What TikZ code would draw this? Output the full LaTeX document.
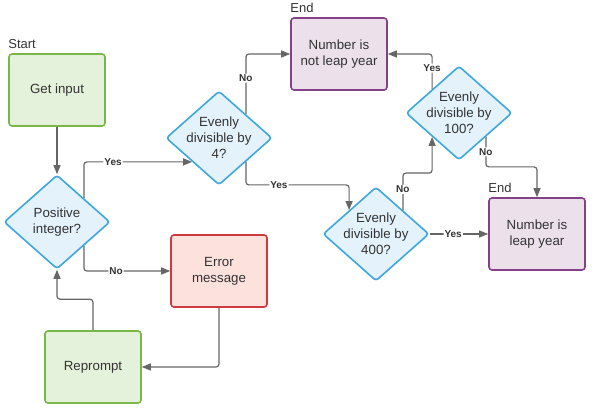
\documentclass[tikz,border=0pt]{standalone}
\usepackage{fontspec}
\setmainfont{Liberation Sans}
\usepackage{xcolor}
\usepackage{tikz}
\usetikzlibrary{positioning,shapes.geometric,arrows.meta}
\definecolor{inputline}{RGB}{122,182,72}
\definecolor{inputfill}{RGB}{229,242,219}
\definecolor{testline}{RGB}{62,168,222}
\definecolor{testfill}{RGB}{227,242,251}
\definecolor{errline}{RGB}{208,57,62}
\definecolor{errfill}{RGB}{253,225,221}
\definecolor{endline}{RGB}{131,65,135}
\definecolor{endfill}{RGB}{236,225,235}
\definecolor{arrowgray}{RGB}{102,102,102}
\definecolor{ink}{RGB}{51,51,51}

\begin{document}
\begin{tikzpicture}[x=1pt, y=-1pt,
  box/.style={rounded corners=3pt, line width=1.6pt, minimum width=96pt, minimum height=72pt, align=center, text=ink, font=\fontsize{13.3}{16}\selectfont},
  inbox/.style={box, draw=inputline, fill=inputfill},
  errbox/.style={box, draw=errline, fill=errfill},
  endbox/.style={box, draw=endline, fill=endfill},
  test/.style={diamond, shape aspect=1.13, rounded corners=3pt, draw=testline, fill=testfill, line width=1.6pt, minimum width=106pt, minimum height=94pt, inner sep=-3pt, align=center, text=ink, font=\fontsize{13.3}{16}\selectfont},
  link/.style={-{Triangle[length=9pt,width=7pt]}, line width=1.2pt, draw=arrowgray, rounded corners=3pt},
  lbl/.style={fill=white, inner sep=1pt, text=ink, font=\fontsize{10}{11}\selectfont\bfseries},
  tag/.style={inner sep=1pt, text=ink, font=\fontsize{13}{14}\selectfont}]
\useasboundingbox (0,0) rectangle (594,414);

% Boxes
\node[inbox] (get) at (57,90) {Get input};
\node[inbox] (rep) at (93,367) {Reprompt};
\node[errbox] (err) at (219,271) {Error\\message};
\node[endbox] (nly) at (339,54) {Number is\\not leap year};
\node[endbox] (ly) at (537,234) {Number is\\leap year};

% Decisions
\node[test] (pos) at (57,222) {Positive\\integer?};
\node[test] (d4) at (219,138) {Evenly\\divisible by\\4?};
\node[test] (d400) at (376,234) {Evenly\\divisible by\\400?};
\node[test] (d100) at (459,113) {Evenly\\divisible by\\100?};

% Tags
\node[tag, above right=3pt and -1pt of get.north west] (start) {Start};
\node[tag, above right=3pt and -1pt of nly.north west] (end1) {End};
\node[tag, above right=3pt and -1pt of ly.north west] (end2) {End};

% Arrows
\draw[link] (get) -- (pos);
\draw[link] (pos.north east) |- node[lbl, pos=0.635] (y1) {Yes} (d4.south west);
\draw[link] (pos.south east) |- node[lbl, pos=0.686] (n1) {No} (err.west);
\draw[link] (err.south) |- (rep.east);
\draw[link] (rep.north) -- ++(0,-31) -| (pos.south);
\draw[link] (d4.north east) |- node[lbl, pos=0.3] (n4) {No} (nly.west);
\draw[link] (d4.south east) -- ++(0,23) -| node[lbl, pos=0.16] (y4) {Yes} (d400.north west);
\draw[link] (d400.east) -- node[lbl, pos=0.4] (y400) {Yes} (ly.west);
\draw[link] (d400.north east) -- node[lbl, pos=0.56] (n400) {No} ++(0,-37) -| (d100.south west);
\draw[link] (d100.north west) |- node[lbl, pos=0.3] (y100) {Yes} (nly.east);
\draw[link] (d100.south east) -- node[lbl, pos=0.5] (n100) {No} ++(0,30) -| (ly.north);
\end{tikzpicture}
\end{document}
